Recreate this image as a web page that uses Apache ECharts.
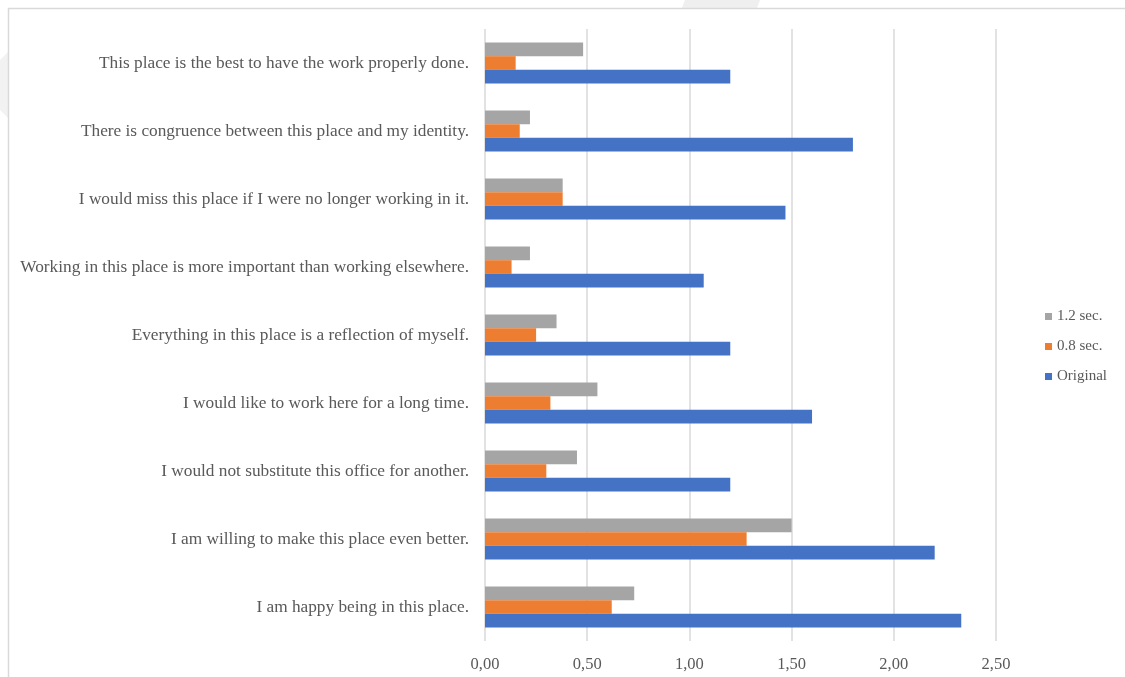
<!DOCTYPE html>
<html>
<head>
<meta charset="utf-8">
<script src="https://cdn.jsdelivr.net/npm/echarts@6/dist/echarts.min.js"></script>
<style>
	html, body { margin: 0; padding: 0; background: #fff; }
	#chart { width: 1125px; height: 677px; }
</style>
</head>
<body>
<div id="chart"></div>
<script>
// statements, bottom to top as drawn
const categories = [
	'I am happy being in this place.',
	'I am willing to make this place even better.',
	'I would not substitute this office for another.',
	'I would like to work here for a long time.',
	'Everything in this place is a reflection of myself.',
	'Working in this place is more important than working elsewhere.',
	'I would miss this place if I were no longer working in it.',
	'There is congruence between this place and my identity.',
	'This place is the best to have the work properly done.'
];
const original = [2.33, 2.20, 1.20, 1.60, 1.20, 1.07, 1.47, 1.80, 1.20];
const sec08 = [0.62, 1.28, 0.30, 0.32, 0.25, 0.13, 0.38, 0.17, 0.15];
const sec12 = [0.73, 1.50, 0.45, 0.55, 0.35, 0.22, 0.38, 0.22, 0.48];
const legendOrder = ['1.2 sec.', '0.8 sec.', 'Original'];

const font = '"Liberation Serif", "Times New Roman", serif';
const txt = '#595959';

let chart = echarts.init(document.getElementById('chart'));

chart.setOption({
	animation: false,
	textStyle: { fontFamily: font },
	graphic: [
		{ type: 'polygon', shape: { points: [[685, 0], [760, 0], [757, 8], [682, 8]] }, style: { fill: '#efefef' }, z: 0 },
		{ type: 'polygon', shape: { points: [[0, 60], [8, 52], [8, 118], [0, 110]] }, style: { fill: '#f2f2f2' }, z: 0 },
		{ type: 'rect', shape: { x: 8.5, y: 8.5, width: 1130, height: 680 }, style: { fill: 'none', stroke: '#d9d9d9', lineWidth: 1.5 }, z: 0 }
	],
	grid: { left: 485, right: 129, top: 29, bottom: 36, containLabel: false },
	legend: {
		data: legendOrder,
		orient: 'vertical',
		left: 1040,
		top: 304,
		itemWidth: 7,
		itemHeight: 7,
		itemGap: 15,
		icon: 'rect',
		textStyle: { fontFamily: font, fontSize: 15, color: txt }
	},
	xAxis: {
		type: 'value',
		min: 0,
		max: 2.5,
		interval: 0.5,
		axisLine: { show: false },
		axisTick: { show: false },
		splitLine: { lineStyle: { color: '#d9d9d9', width: 1.5 } },
		axisLabel: {
			color: txt, fontFamily: font, fontSize: 16.5, margin: 15,
			formatter: v => v.toFixed(2).replace('.', ',')
		}
	},
	yAxis: {
		type: 'category',
		data: categories,
		axisLine: { show: false },
		axisTick: { show: false },
		axisLabel: { color: txt, fontFamily: font, fontSize: 17.3, margin: 16, padding: [4, 0, 0, 0] }
	},
	series: [
		{ name: '1.2 sec.', type: 'bar', data: sec12, itemStyle: { color: '#A5A5A5' }, barGap: '0%', barCategoryGap: '40%' },
		{ name: '0.8 sec.', type: 'bar', data: sec08, itemStyle: { color: '#ED7D31' } },
		{ name: 'Original', type: 'bar', data: original, itemStyle: { color: '#4472C4' } }
	]
});
</script>
</body>
</html>
